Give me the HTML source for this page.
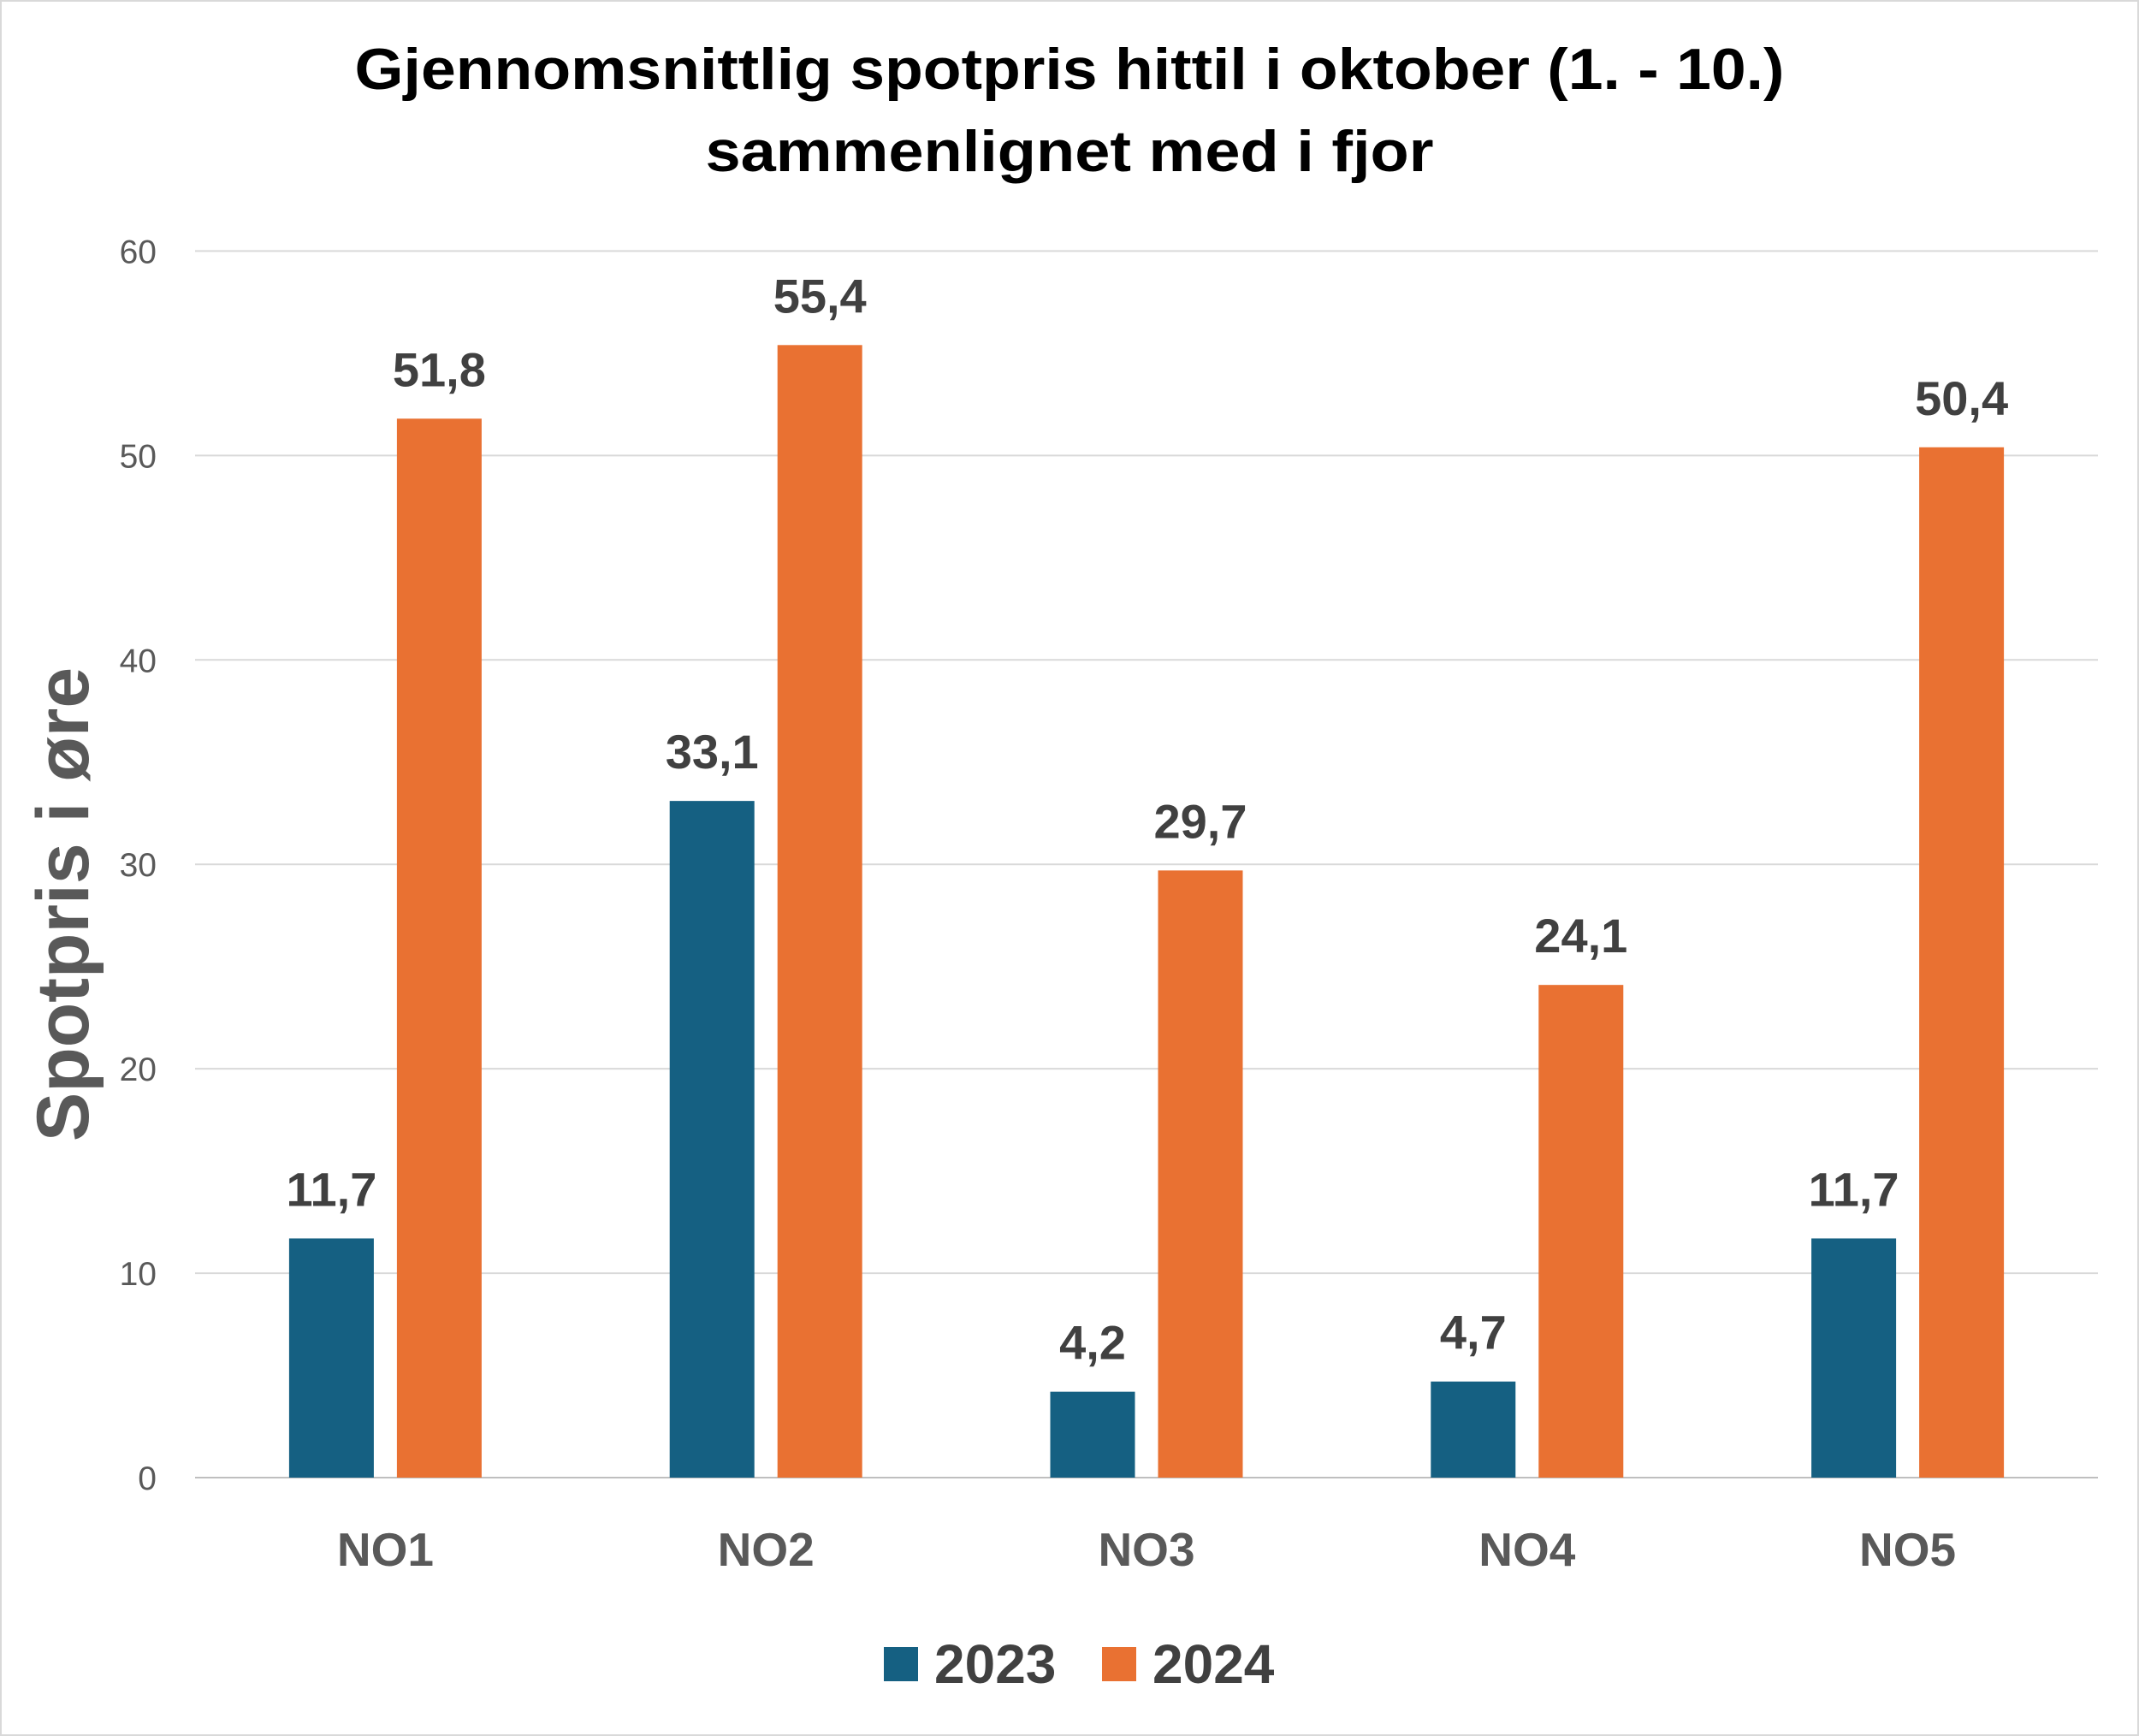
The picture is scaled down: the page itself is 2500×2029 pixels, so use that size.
<!DOCTYPE html>
<html><head><meta charset="utf-8"><style>
html,body{margin:0;padding:0;background:#fff;}
svg{display:block;font-family:"Liberation Sans",sans-serif;}
</style></head><body>
<svg id="chart" width="2500" height="2029" viewBox="0 0 2500 2029" xmlns="http://www.w3.org/2000/svg">
<rect x="1" y="1" width="2498" height="2027" fill="#fff" stroke="#d9d9d9" stroke-width="2"/>
<text x="1250" y="104" text-anchor="middle" font-size="68" font-weight="bold" fill="#000" textLength="1671" lengthAdjust="spacingAndGlyphs">Gjennomsnittlig spotpris hittil i oktober (1. - 10.)</text>
<text x="1250" y="200" text-anchor="middle" font-size="68" font-weight="bold" fill="#000" textLength="851" lengthAdjust="spacingAndGlyphs">sammenlignet med i fjor</text>
<text transform="translate(103,1057) rotate(-90)" text-anchor="middle" font-size="86" font-weight="bold" fill="#595959">Spotpris i øre</text>
<g id="grid"></g><g id="bars"></g><g id="labels"></g>
<rect x="1033" y="1925" width="40" height="40" fill="#156082"/>
<text x="1092" y="1967" font-size="64" font-weight="bold" fill="#404040">2023</text>
<rect x="1288" y="1925" width="40" height="40" fill="#E97132"/>
<text x="1347" y="1967" font-size="64" font-weight="bold" fill="#404040">2024</text>
</svg>
<script>
const categories = ["NO1","NO2","NO3","NO4","NO5"];
const values2023 = [11.7,33.1,4.2,4.7,11.7];
const values2024 = [51.8,55.4,29.7,24.1,50.4];
const yTicks = [0,10,20,30,40,50,60];
const NS="http://www.w3.org/2000/svg";
const x0=228,x1=2452,y0=1727,yTop=293.4,yMax=60;
const band=(x1-x0)/categories.length;
function yS(v){return y0-(v/yMax)*(y0-yTop);}
function cx(i){return x0+band*(i+0.5);}
function mk(t,a,p){const e=document.createElementNS(NS,t);for(const k in a)e.setAttribute(k,a[k]);p.appendChild(e);return e;}
const grid=document.getElementById('grid'),bars=document.getElementById('bars'),labels=document.getElementById('labels');
yTicks.forEach(t=>{
 const l=mk('line',{x1:x0,x2:x1,y1:yS(t),y2:yS(t),stroke:t===0?'#bfbfbf':'#d9d9d9','stroke-width':2},grid);
 
 
 const tx=mk('text',{x:183,y:yS(t)+14,'text-anchor':'end','font-size':39,fill:'#595959'},grid);
 tx.textContent=t;
 
 
});
const bw=99,gap=27;
function fmt(v){return v.toFixed(1).replace('.',',');}
categories.forEach((c,i)=>{
 const series=[[values2023[i],'#156082','2023',cx(i)-gap/2-bw],[values2024[i],'#E97132','2024',cx(i)+gap/2]];
 series.forEach(s=>{
  const r=mk('rect',{x:s[3],y:yS(s[0]),width:bw,height:y0-yS(s[0]),fill:s[1]},bars);
  
  
  const t=mk('text',{x:s[3]+bw/2,y:yS(s[0])-38,'text-anchor':'middle','font-size':56,'font-weight':'bold',fill:'#404040'},labels);
  t.textContent=fmt(s[0]);
  
  
 });
 const ct=mk('text',{x:cx(i),y:1830,'text-anchor':'middle','font-size':55,'font-weight':'bold',fill:'#595959'},labels);
 ct.textContent=c;
 
 
});
</script>
</body></html>
